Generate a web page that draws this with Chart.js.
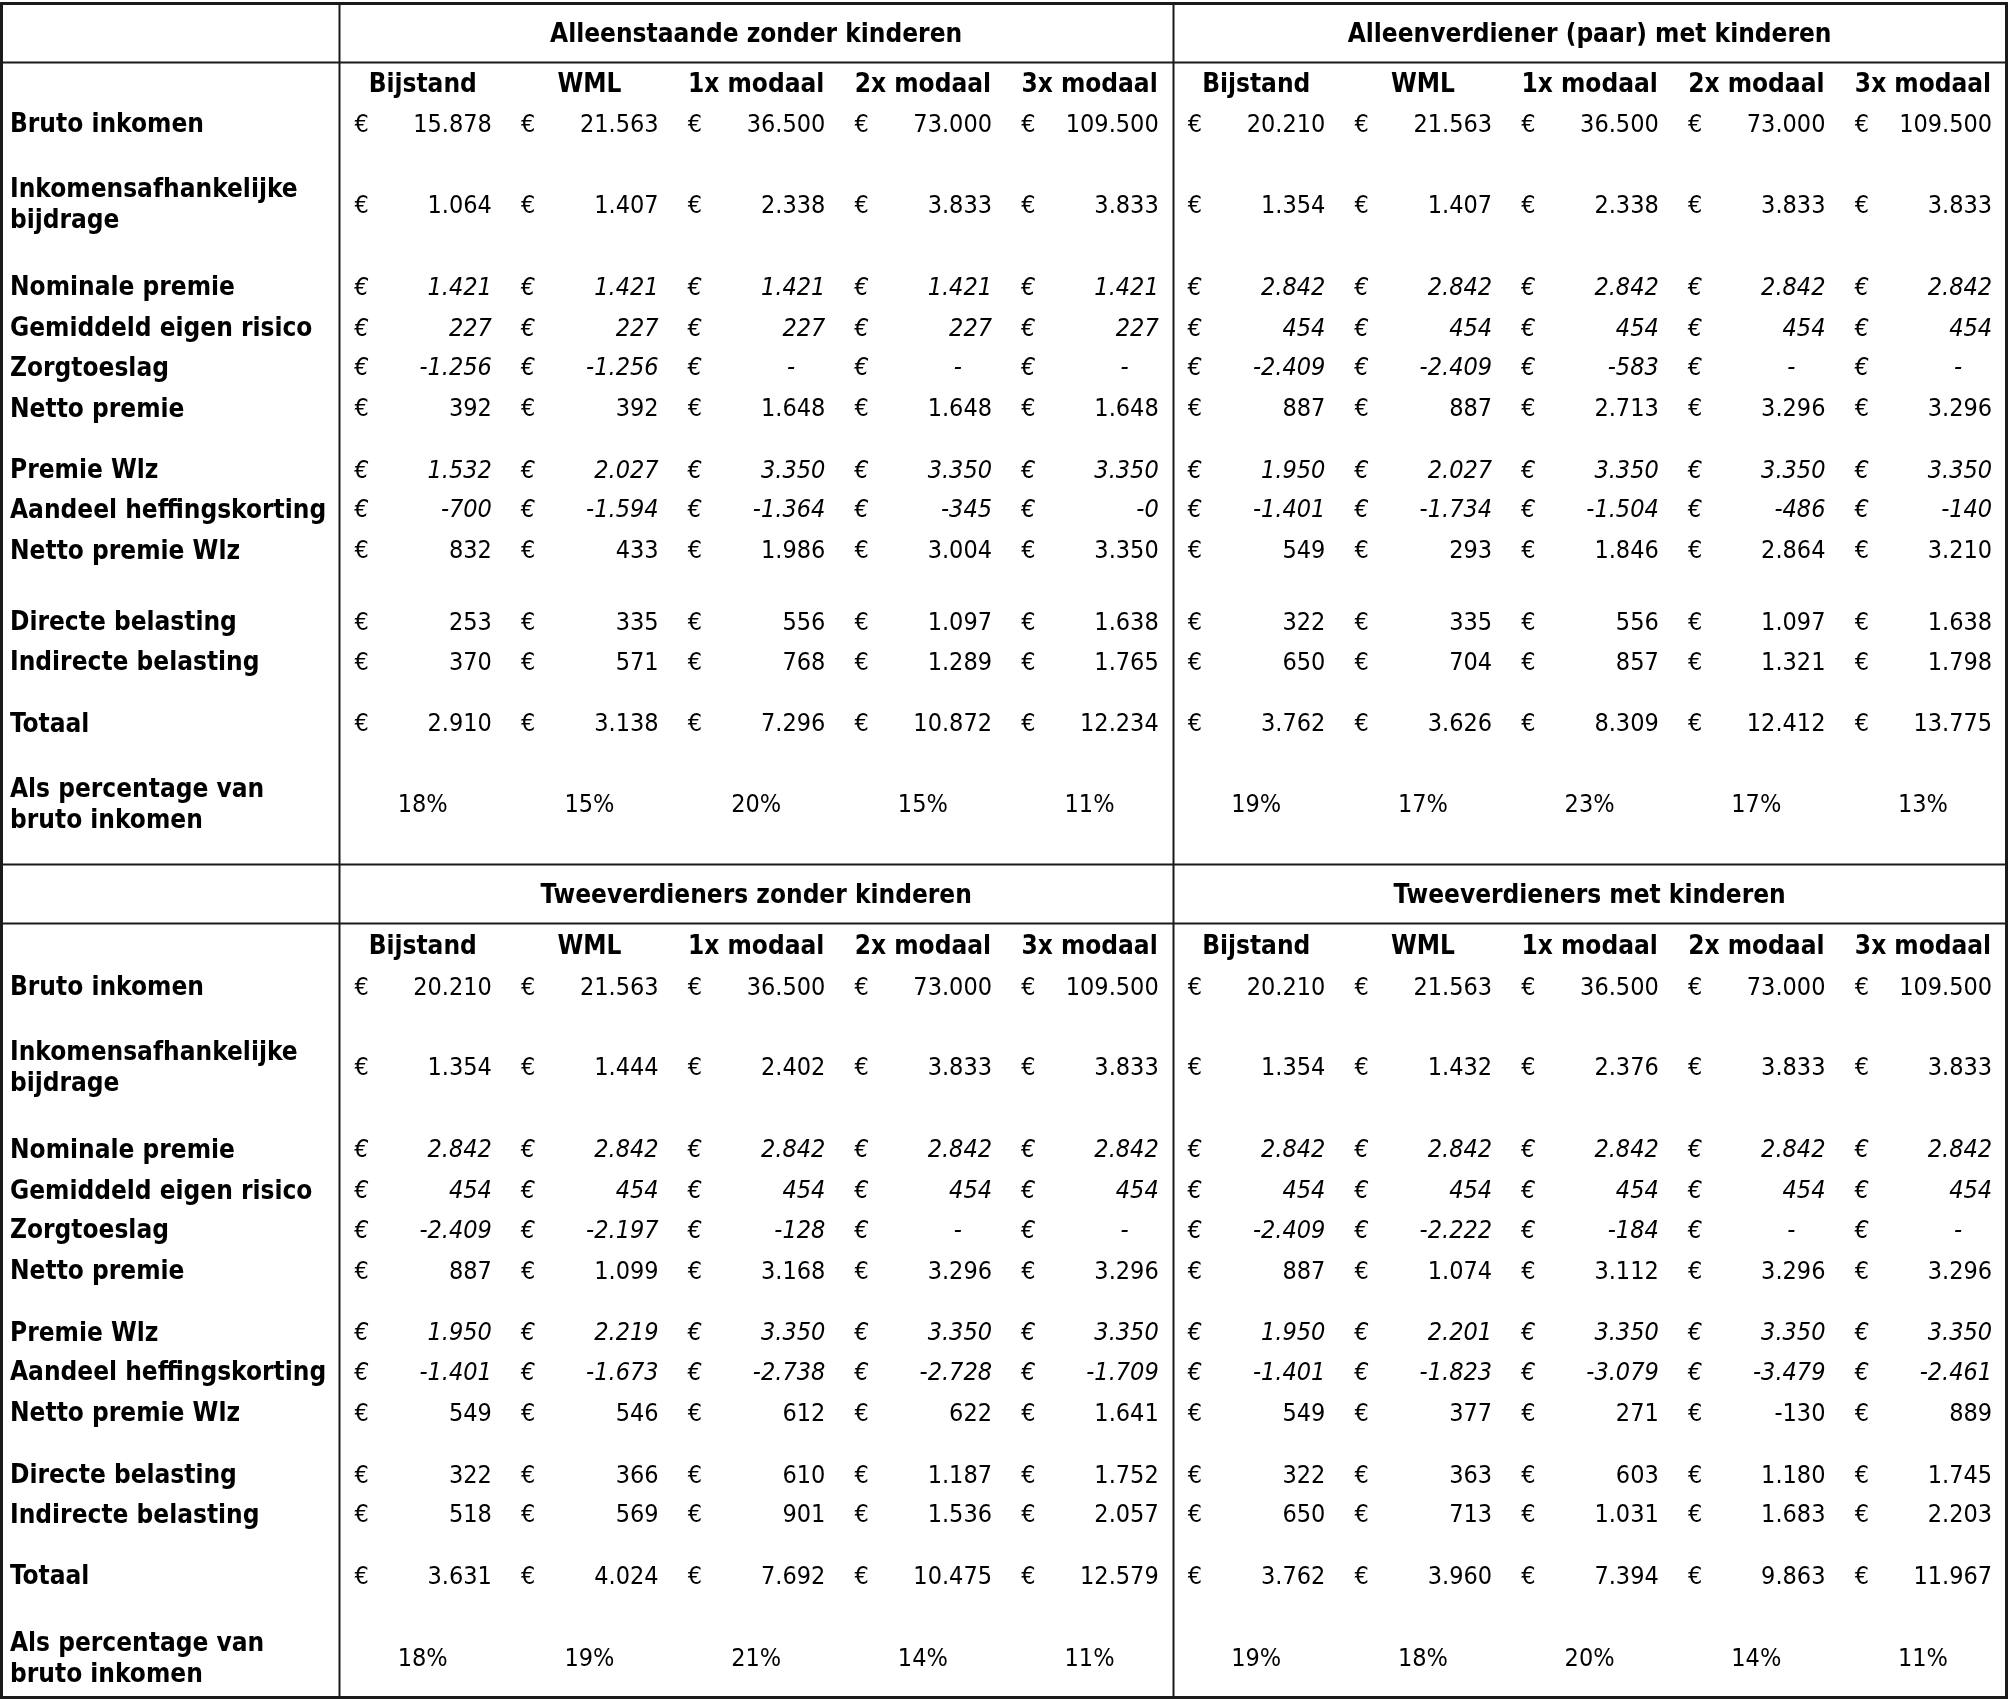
<!DOCTYPE html>
<html>
<head>
<meta charset="utf-8">
<title>Zorgkosten per huishouden</title>
<script src="https://cdn.jsdelivr.net/npm/chart.js@4"></script>
<style>
  body { margin: 0; background: #fff; }
  #wrap { width: 2008px; height: 1699px; }
</style>
</head>
<body>
<div id="wrap"><canvas id="tableChart" width="2008" height="1699"></canvas></div>
<script>
// Huishoudtypen en inkomensniveaus
const groups = [
    'Alleenstaande zonder kinderen',
    'Alleenverdiener (paar) met kinderen',
    'Tweeverdieners zonder kinderen',
    'Tweeverdieners met kinderen'
];
const columns = ['Bijstand', 'WML', '1x modaal', '2x modaal', '3x modaal'];
const rowLabels = [
    'Bruto inkomen', 'Inkomensafhankelijke\nbijdrage', 'Nominale premie', 'Gemiddeld eigen risico',
    'Zorgtoeslag', 'Netto premie', 'Premie Wlz', 'Aandeel heffingskorting', 'Netto premie Wlz',
    'Directe belasting', 'Indirecte belasting', 'Totaal', 'Als percentage van\nbruto inkomen'
];
const italicRows = [false, false, true, true, true, false, true, true, false, false, false, false, false];

// Bedragen in euro's, per groep 5 kolommen
const brutoInkomen = [
    [15878, 21563, 36500, 73000, 109500], [20210, 21563, 36500, 73000, 109500],
    [20210, 21563, 36500, 73000, 109500], [20210, 21563, 36500, 73000, 109500]
];
const inkomensafhBijdrage = [
    [1064, 1407, 2338, 3833, 3833], [1354, 1407, 2338, 3833, 3833],
    [1354, 1444, 2402, 3833, 3833], [1354, 1432, 2376, 3833, 3833]
];
const nominalePremie = [
    [1421, 1421, 1421, 1421, 1421], [2842, 2842, 2842, 2842, 2842],
    [2842, 2842, 2842, 2842, 2842], [2842, 2842, 2842, 2842, 2842]
];
const eigenRisico = [
    [227, 227, 227, 227, 227], [454, 454, 454, 454, 454],
    [454, 454, 454, 454, 454], [454, 454, 454, 454, 454]
];
const zorgtoeslag = [
    [-1256, -1256, 0, 0, 0], [-2409, -2409, -583, 0, 0],
    [-2409, -2197, -128, 0, 0], [-2409, -2222, -184, 0, 0]
];
const nettoPremie = [
    [392, 392, 1648, 1648, 1648], [887, 887, 2713, 3296, 3296],
    [887, 1099, 3168, 3296, 3296], [887, 1074, 3112, 3296, 3296]
];
const premieWlz = [
    [1532, 2027, 3350, 3350, 3350], [1950, 2027, 3350, 3350, 3350],
    [1950, 2219, 3350, 3350, 3350], [1950, 2201, 3350, 3350, 3350]
];
const heffingskorting = [
    [-700, -1594, -1364, -345, -0], [-1401, -1734, -1504, -486, -140],
    [-1401, -1673, -2738, -2728, -1709], [-1401, -1823, -3079, -3479, -2461]
];
const nettoPremieWlz = [
    [832, 433, 1986, 3004, 3350], [549, 293, 1846, 2864, 3210],
    [549, 546, 612, 622, 1641], [549, 377, 271, -130, 889]
];
const directeBelasting = [
    [253, 335, 556, 1097, 1638], [322, 335, 556, 1097, 1638],
    [322, 366, 610, 1187, 1752], [322, 363, 603, 1180, 1745]
];
const indirecteBelasting = [
    [370, 571, 768, 1289, 1765], [650, 704, 857, 1321, 1798],
    [518, 569, 901, 1536, 2057], [650, 713, 1031, 1683, 2203]
];
const totaal = [
    [2910, 3138, 7296, 10872, 12234], [3762, 3626, 8309, 12412, 13775],
    [3631, 4024, 7692, 10475, 12579], [3762, 3960, 7394, 9863, 11967]
];
const percentages = [
    [18, 15, 20, 15, 11], [19, 17, 23, 17, 13],
    [18, 19, 21, 14, 11], [19, 18, 20, 14, 11]
];

const amountRows = [brutoInkomen, inkomensafhBijdrage, nominalePremie, eigenRisico, zorgtoeslag,
    nettoPremie, premieWlz, heffingskorting, nettoPremieWlz, directeBelasting, indirecteBelasting, totaal];

// Layout in row units (one unit = one table line)
const panelTop = [0, 21.23];
const panelHeight = [21.23, 20.5];
const titlePos = 0.73, headLine = 1.46, colHeadPos = 1.97;
const rowPos = [
    [2.97, 4.95, 6.97, 7.98, 8.96, 9.97, 11.48, 12.46, 13.47, 15.24, 16.21, 17.73, 19.72],
    [3.0, 4.98, 7.0, 8.01, 8.99, 10.0, 11.51, 12.49, 13.5, 15.02, 15.99, 17.51, 19.53]
];
const X_MIN = -2.036, X_MAX = 10.01, Y_MIN = -0.063, Y_MAX = 41.8;
const TEXT_DY = 0.065;

const FONT = '"DejaVu Sans Condensed", "DejaVu Sans", sans-serif';
const SIZE = 25, BOLD_SIZE = 26;

function formatAmount(v) {
    if (v === 0 && !Object.is(v, -0)) return '-';
    const sign = (v < 0 || Object.is(v, -0)) ? '-' : '';
    return sign + Math.abs(v).toString().replace(/\B(?=(\d{3})+(?!\d))/g, '.');
}

// One dataset per household type; every cell is a (hidden) point
const datasets = groups.map((g, gi) => {
    const p = Math.floor(gi / 2);
    const off = (gi % 2) * 5;
    const pts = [];
    amountRows.forEach((rowArr, r) => {
        rowArr[gi].forEach((v, c) => {
            pts.push({ x: off + c + 0.5, y: panelTop[p] + rowPos[p][r] + TEXT_DY, v: v, r: r });
        });
    });
    percentages[gi].forEach((v, c) => {
        pts.push({ x: off + c + 0.5, y: panelTop[p] + rowPos[p][12] + TEXT_DY, v: v, r: 12 });
    });
    return { label: g, data: pts, pointRadius: 0, pointHoverRadius: 0, showLine: false };
});

const tablePlugin = {
    id: 'tablePlugin',
    beforeDatasetsDraw(chart) {
        const ctx = chart.ctx;
        const xs = chart.scales.x, ys = chart.scales.y;
        ctx.save();
        ctx.strokeStyle = '#1a1a1a';
        ctx.lineWidth = 2;
        const hline = (y, x0, x1) => {
            ctx.beginPath();
            ctx.moveTo(xs.getPixelForValue(x0), Math.round(ys.getPixelForValue(y)) + 0.5);
            ctx.lineTo(xs.getPixelForValue(x1), Math.round(ys.getPixelForValue(y)) + 0.5);
            ctx.stroke();
        };
        const vline = (x, y0, y1) => {
            ctx.beginPath();
            ctx.moveTo(Math.round(xs.getPixelForValue(x)) + 0.5, ys.getPixelForValue(y0));
            ctx.lineTo(Math.round(xs.getPixelForValue(x)) + 0.5, ys.getPixelForValue(y1));
            ctx.stroke();
        };
        const bottom = panelTop[1] + panelHeight[1];
        panelTop.forEach(t => { hline(t, X_MIN, 10); hline(t + headLine, X_MIN, 10); });
        vline(0, 0, bottom);
        vline(5, 0, bottom);
        // outer border
        ctx.lineWidth = 3;
        ctx.strokeRect(1.5, Math.round(ys.getPixelForValue(0)) + 0.5,
            Math.round(xs.getPixelForValue(10)) - 1, Math.round(ys.getPixelForValue(bottom) - ys.getPixelForValue(0)));

        ctx.fillStyle = '#000';
        ctx.textBaseline = 'middle';
        ctx.font = 'bold ' + BOLD_SIZE + 'px ' + FONT;
        // group titles and column headers
        groups.forEach((g, gi) => {
            const p = Math.floor(gi / 2);
            const off = (gi % 2) * 5;
            ctx.textAlign = 'center';
            ctx.fillText(g, xs.getPixelForValue(off + 2.5), ys.getPixelForValue(panelTop[p] + titlePos + TEXT_DY));
            columns.forEach((c, ci) => {
                ctx.fillText(c, xs.getPixelForValue(off + ci + 0.5), ys.getPixelForValue(panelTop[p] + colHeadPos + TEXT_DY));
            });
        });
        // row labels
        ctx.textAlign = 'left';
        panelTop.forEach((t, p) => {
            rowLabels.forEach((lab, r) => {
                const lines = lab.split('\n');
                lines.forEach((ln, li) => {
                    const dy = (li - (lines.length - 1) / 2) * 0.757;
                    ctx.fillText(ln, xs.getPixelForValue(X_MIN + 0.06), ys.getPixelForValue(t + rowPos[p][r] + dy + TEXT_DY));
                });
            });
        });
        ctx.restore();
    },
    afterDatasetsDraw(chart) {
        const ctx = chart.ctx;
        const xs = chart.scales.x;
        const unit = xs.getPixelForValue(1) - xs.getPixelForValue(0);
        ctx.save();
        ctx.fillStyle = '#000';
        ctx.textBaseline = 'middle';
        chart.data.datasets.forEach((ds, di) => {
            const meta = chart.getDatasetMeta(di);
            meta.data.forEach((el, i) => {
                const d = ds.data[i];
                const cx = el.x, cy = el.y;
                if (d.r === 12) {
                    ctx.font = SIZE + 'px ' + FONT;
                    ctx.textAlign = 'center';
                    ctx.fillText(d.v + '%', cx, cy);
                    return;
                }
                ctx.font = (italicRows[d.r] ? 'italic ' : '') + SIZE + 'px ' + FONT;
                ctx.textAlign = 'left';
                ctx.fillText('€', cx - unit * (0.5 - 0.09), cy);
                const txt = formatAmount(d.v);
                if (txt === '-') {
                    ctx.textAlign = 'center';
                    ctx.fillText(txt, cx + unit * (0.5 - 0.29), cy);
                } else {
                    ctx.textAlign = 'right';
                    ctx.fillText(txt, cx + unit * (0.5 - 0.085), cy);
                }
            });
        });
        ctx.restore();
    }
};

const ctx = document.getElementById('tableChart').getContext('2d');
const tableChart = new Chart(ctx, {
    type: 'scatter',
    data: { datasets: datasets },
    options: {
        responsive: false,
        animation: false,
        devicePixelRatio: 1,
        events: [],
        layout: { padding: 0 },
        plugins: { legend: { display: false }, tooltip: { enabled: false } },
        scales: {
            x: { type: 'linear', min: X_MIN, max: X_MAX, display: false },
            y: { type: 'linear', min: Y_MIN, max: Y_MAX, reverse: true, display: false }
        }
    },
    plugins: [tablePlugin]
});
</script>
</body>
</html>
